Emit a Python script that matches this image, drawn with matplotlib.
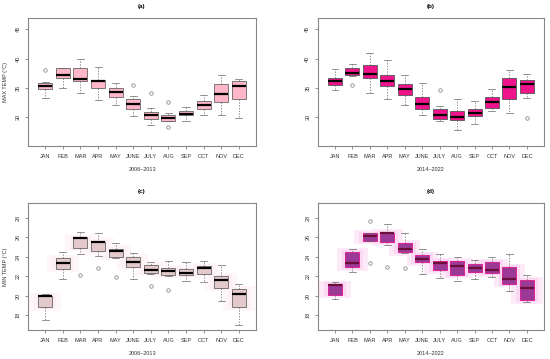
import matplotlib
matplotlib.use("Agg")
import matplotlib.pyplot as plt
from matplotlib.patches import Rectangle

plt.rcParams['font.family'] = ['Liberation Sans', 'DejaVu Sans']

months = ["JAN", "FEB", "MAR", "APR", "MAY", "JUNE", "JULY", "AUG", "SEP", "OCT", "NOV", "DEC"]

# (a) MAX TEMP 2006-2013
a_lo  = [33.35, 34.9, 34.1, 32.95, 32.05, 30.2, 28.7, 29.3, 29.3, 30.3, 30.3, 29.9]
a_q1  = [34.77, 36.6, 36.25, 34.9, 33.4, 31.48, 29.77, 29.43, 30.4, 31.36, 32.56, 33.07]
a_med = [35.34, 37.27, 36.53, 36.2, 34.38, 32.27, 30.4, 29.83, 30.6, 32.16, 34.03, 35.34]
a_q3  = [35.8, 38.3, 38.35, 36.36, 35.06, 33.07, 30.97, 30.34, 31.1, 32.8, 35.6, 36.1]
a_hi  = [35.97, 38.35, 40.0, 38.6, 35.8, 33.6, 31.53, 30.7, 31.8, 33.75, 37.16, 36.5]
a_out = [[38.07], [], [], [], [], [35.57], [34.2], [32.6, 28.35], [], [], [], []]

# (b) MAX TEMP 2014-2022
b_lo  = [34.66, 37.1, 34.2, 33.18, 32.05, 30.45, 29.3, 27.84, 28.86, 31.02, 30.68, 33.24]
b_q1  = [35.57, 37.2, 36.76, 35.34, 33.86, 31.48, 29.77, 29.55, 30.17, 31.6, 33.18, 34.2]
b_med = [36.2, 37.5, 37.33, 36.14, 34.77, 32.33, 30.34, 30.1, 30.8, 32.56, 35.1, 35.68]
b_q3  = [36.65, 38.4, 38.86, 37.16, 35.68, 33.4, 31.48, 31.02, 31.36, 33.4, 36.6, 36.3]
b_hi  = [38.2, 39.0, 41.0, 39.77, 37.2, 35.8, 31.93, 33.1, 32.8, 34.77, 38.07, 37.33]
b_out = [[], [35.5], [], [], [], [], [34.66], [], [], [], [], [29.9]]

# (c) MIN TEMP 2006-2013
c_lo  = [17.44, 21.67, 24.23, 24.1, 23.86, 21.67, 22.18, 22.05, 21.54, 21.36, 19.45, 17.0]
c_q1  = [18.77, 22.76, 24.9, 24.54, 24.0, 22.97, 22.32, 22.12, 22.12, 22.25, 20.78, 18.8]
c_med = [19.9, 23.34, 25.9, 25.46, 24.57, 23.45, 22.63, 22.56, 22.32, 22.8, 21.6, 20.14]
c_q3  = [19.93, 23.82, 25.97, 25.53, 24.8, 23.92, 23.1, 22.8, 22.7, 23.04, 22.0, 20.65]
c_hi  = [20.2, 24.44, 26.48, 26.38, 25.43, 24.33, 23.41, 23.5, 23.41, 23.5, 23.1, 21.16]
c_out = [[], [], [22.1], [22.8], [21.88], [], [20.96], [20.6], [], [], [], []]

# (d) MIN TEMP 2014-2022
d_lo  = [19.62, 22.42, 25.55, 25.15, 24.4, 22.25, 21.84, 21.54, 21.7, 21.95, 20.44, 19.3]
d_q1  = [20.1, 22.9, 25.6, 25.46, 24.44, 23.41, 22.6, 22.12, 22.39, 22.29, 21.19, 19.49]
d_med = [21.06, 23.34, 26.1, 26.4, 24.74, 23.79, 23.3, 23.07, 22.8, 22.66, 21.74, 20.78]
d_q3  = [21.19, 24.5, 26.38, 26.45, 25.36, 24.16, 23.55, 23.5, 23.2, 23.45, 22.93, 21.57]
d_hi  = [21.43, 24.74, 26.45, 27.3, 26.38, 24.78, 24.27, 23.92, 23.65, 24.0, 24.23, 22.1]
d_out = [[], [], [27.68, 23.3], [22.97], [22.83], [], [], [], [], [], [], []]

fig = plt.figure(figsize=(5.5, 3.59), dpi=100)

panels = [
    dict(pos=[0.0509, 0.5933, 0.4146, 0.3566], title="(a)", xl="2006\u20132013", yl="MAX TEMP (\u00b0C)",
         data=(a_lo, a_q1, a_med, a_q3, a_hi, a_out), ylim=(25.1, 46.9), yt=[30, 35, 40, 45],
         face="#ffb6c8", edge="#666666", medc="black", halo=None),
    dict(pos=[0.578, 0.5933, 0.411, 0.3566], title="(b)", xl="2014\u20132022", yl=None,
         data=(b_lo, b_q1, b_med, b_q3, b_hi, b_out), ylim=(25.1, 46.9), yt=[30, 35, 40, 45],
         face="#f0148c", edge="#555555", medc="black", halo=None),
    dict(pos=[0.0509, 0.0808, 0.4146, 0.3537], title="(c)", xl="2006\u20132013", yl="MIN TEMP (\u00b0C)",
         data=(c_lo, c_q1, c_med, c_q3, c_hi, c_out), ylim=(16.46, 29.5), yt=[18, 20, 22, 24, 26, 28],
         face="#e3c8cc", edge="#666666", medc="black", halo=("#fef6f9", "#fdf0f5")),
    dict(pos=[0.578, 0.0808, 0.411, 0.3537], title="(d)", xl="2014\u20132022", yl=None,
         data=(d_lo, d_q1, d_med, d_q3, d_hi, d_out), ylim=(16.46, 29.5), yt=[18, 20, 22, 24, 26, 28],
         face="#9b3a96", edge="#e0148c", medc="#6b0f3a", halo=("#fdeaf8", "#fbd8f1")),
]

for p in panels:
    ax = fig.add_axes(p["pos"])
    lo, q1, med, q3, hi, out = p["data"]
    stats = []
    for i in range(len(months)):
        stats.append(dict(whislo=lo[i], q1=q1[i], med=med[i], q3=q3[i], whishi=hi[i],
                          fliers=out[i], label=months[i]))
    positions = list(range(1, len(months) + 1))
    if p["halo"] is not None:
        for i, x in enumerate(positions):
            ax.add_patch(Rectangle((x - 0.9, q1[i] - 0.35), 1.8, (q3[i] - q1[i]) + 0.7,
                                   facecolor=p["halo"][0], edgecolor="none", zorder=0.5))
            ax.add_patch(Rectangle((x - 0.62, q1[i] - 0.18), 1.24, (q3[i] - q1[i]) + 0.36,
                                   facecolor=p["halo"][1], edgecolor="none", zorder=0.6))
    ax.bxp(stats, positions=positions, widths=0.8, patch_artist=True,
           boxprops=dict(facecolor=p["face"], edgecolor=p["edge"], linewidth=0.6),
           medianprops=dict(color=p["medc"], linewidth=1.6, solid_capstyle="butt"),
           whiskerprops=dict(color="#666666", linewidth=0.5, linestyle=(0, (2, 2))),
           capprops=dict(color="#666666", linewidth=0.5),
           capwidths=0.4,
           flierprops=dict(marker="o", markerfacecolor="none", markeredgecolor="#777777",
                           markersize=2.5, markeredgewidth=0.5))
    ax.set_xlim(0.02, 12.98)
    ax.set_ylim(*p["ylim"])
    ax.set_yticks(p["yt"])
    ax.set_yticklabels([str(v) for v in p["yt"]], rotation=90, va="center", fontsize=4, color="#333333")
    ax.set_xticks(positions)
    ax.set_xticklabels(months, fontsize=4, color="#333333")
    ax.tick_params(axis="both", length=2.5, width=0.5, color="#666666", pad=3)
    for s in ax.spines.values():
        s.set_color("#888888")
        s.set_linewidth(0.8)
    ax.set_title(p["title"], fontsize=4.5, fontweight="bold", pad=7)
    ax.set_xlabel(p["xl"], fontsize=4, color="#333333", labelpad=6)
    if p["yl"]:
        ax.set_ylabel(p["yl"], fontsize=4, color="#333333", labelpad=5)

fig.savefig("out.png", dpi=100)
